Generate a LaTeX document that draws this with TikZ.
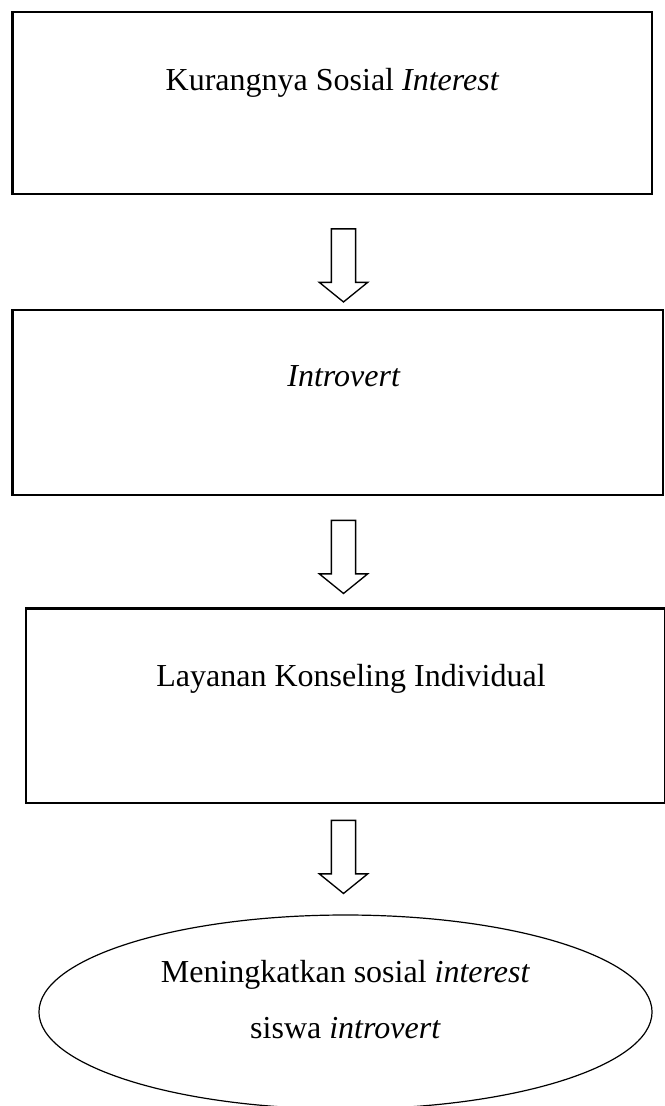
\documentclass[tikz,border=0pt]{standalone}
\usepackage{fontspec}
\setmainfont{Liberation Serif}
\usetikzlibrary{shapes.geometric}
\usetikzlibrary{shapes.arrows}
\tikzset{
  flowbox/.style={rectangle,draw=black,line width=0.8pt,inner sep=0},
  flowtext/.style={font=\fontsize{12}{20.9}\selectfont,inner sep=0,align=center},
  goal/.style={ellipse,draw=black,line width=0.45pt,inner sep=0},
  downarrow/.style={single arrow,draw=black,line width=0.5pt,rotate=-90,
    minimum height=27.4pt,inner xsep=0pt,inner ysep=4.31pt,
    single arrow head extend=4.5pt,single arrow tip angle=102}
}

\begin{document}
\begin{tikzpicture}[x=0.375pt,y=-0.375pt]
    \useasboundingbox (0,0) rectangle (664,1106);

    % boxes, in pixel coordinates
    \node[flowbox,minimum width=239.8pt,minimum height=68.25pt] (kurang) at (332.25,103) {};
    \node[flowbox,minimum width=243.9pt,minimum height=69.4pt] (intro) at (337.75,402.5) {};
    \node[flowbox,minimum width=239.6pt,minimum height=72.9pt] (layanan) at (345.5,705.75) {};
    \node[goal,minimum width=229.9pt,minimum height=72.75pt] (tujuan) at (345.5,1012) {};

    \node[flowtext] (kurang-txt) at (332.5,82.5) {Kurangnya Sosial \textit{Interest}};
    \node[flowtext] (intro-txt) at (344,376.4) {\textit{Introvert}};
    \node[flowtext] (layanan-txt) at (351,679) {Layanan Konseling Individual};
    \node[flowtext] (tujuan-txt) at (345.5,999.5) {Meningkatkan sosial \textit{interest}\\ siswa \textit{introvert}};

    % hollow arrows between the steps
    \node[downarrow] (a1) at (343.5,260.5) {};
    \node[downarrow] (a2) at (343.5,552) {};
    \node[downarrow] (a3) at (343.5,852) {};

\end{tikzpicture}
\end{document}
